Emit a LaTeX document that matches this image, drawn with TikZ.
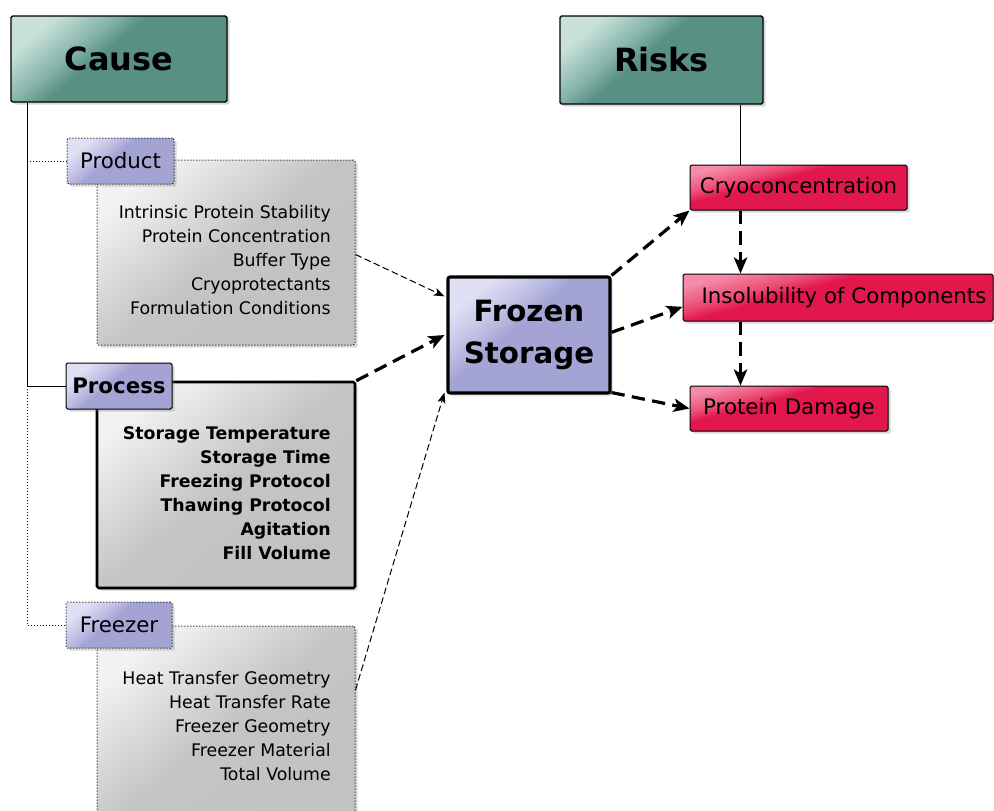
\documentclass[tikz,border=0pt]{standalone}
\usepackage{fontspec}
\setmainfont{DejaVu Sans}
\usetikzlibrary{arrows.meta,shadows}
\pgfdeclareverticalshading{tealgloss}{100bp}{rgb(0bp)=(0.345,0.569,0.518); rgb(25bp)=(0.345,0.569,0.518); rgb(55bp)=(0.345,0.569,0.518); rgb(62bp)=(0.52,0.70,0.66); rgb(75bp)=(0.78,0.88,0.85); rgb(100bp)=(0.78,0.88,0.85)}
\pgfdeclareverticalshading{lavgloss}{100bp}{rgb(0bp)=(0.64,0.64,0.83); rgb(25bp)=(0.64,0.64,0.83); rgb(55bp)=(0.64,0.64,0.83); rgb(62bp)=(0.74,0.74,0.89); rgb(75bp)=(0.88,0.88,0.96); rgb(100bp)=(0.88,0.88,0.96)}
\pgfdeclareverticalshading{redgloss}{100bp}{rgb(0bp)=(0.886,0.094,0.298); rgb(25bp)=(0.886,0.094,0.298); rgb(58bp)=(0.886,0.094,0.298); rgb(64bp)=(0.92,0.30,0.46); rgb(75bp)=(0.96,0.55,0.66); rgb(100bp)=(0.96,0.55,0.66)}
\pgfdeclareverticalshading{graygloss}{100bp}{rgb(0bp)=(0.76,0.76,0.76); rgb(25bp)=(0.76,0.76,0.76); rgb(50bp)=(0.77,0.77,0.77); rgb(60bp)=(0.84,0.84,0.84); rgb(75bp)=(0.95,0.95,0.95); rgb(100bp)=(0.95,0.95,0.95)}
\tikzset{
  base/.style={draw=black, rounded corners=1.2pt, line width=0.75pt, inner sep=0pt,
    drop shadow={shadow xshift=2pt, shadow yshift=-2pt, opacity=0.3}},
  titlebox/.style={base, shade, shading=tealgloss, shading angle=40, line width=1pt,
    font=\fontsize{24}{28}\selectfont\bfseries},
  lablbox/.style={base, shade, shading=lavgloss, shading angle=40,
    font=\fontsize{16}{19}\selectfont},
  listbox/.style={base, shade, shading=graygloss, shading angle=40},
  riskbox/.style={base, shade, shading=redgloss, shading angle=15,
    font=\fontsize{16}{19}\selectfont},
  dotborder/.style={dash pattern=on 0.75pt off 1.5pt},
  listtext/.style={anchor=east, align=right, inner sep=0pt, font=\fontsize{13}{18}\selectfont},
  thinarrow/.style={line width=0.75pt, dash pattern=on 5pt off 2.5pt,
    -{Stealth[length=8pt, width=6pt, inset=2pt]}},
  thickarrow/.style={line width=2.4pt, dash pattern=on 10pt off 5.5pt,
    -{Stealth[length=12pt, width=10pt, inset=3pt]}},
}
\begin{document}
\begin{tikzpicture}[x=0.75pt, y=-0.75pt]
\useasboundingbox (0,0) rectangle (994,810);
\clip (0,0) rectangle (994,810);
\fill[white] (0,0) rectangle (994,810);

% titles
\node[titlebox, minimum width=162pt, minimum height=64.5pt] (cause) at (119,59) {Cause};
\node[titlebox, minimum width=152.25pt, minimum height=66pt] (risks) at (661.5,60) {Risks};

% list boxes
\node[listbox, dotborder, minimum width=193.5pt, minimum height=138.75pt] (prodlist) at (226,252.5) {};
\node[listbox, line width=1.9pt, minimum width=193.5pt, minimum height=154.5pt] (proclist) at (226,485) {};
\node[listbox, dotborder, minimum width=193.5pt, minimum height=153pt] (frzlist) at (226,728) {};

% labels
\node[lablbox, dotborder, minimum width=80.25pt, minimum height=34.5pt] (prodlab) at (120.5,161) {Product};
\node[lablbox, minimum width=79.5pt, minimum height=34.5pt, font=\fontsize{16}{19}\selectfont\bfseries] (proclab) at (119,386) {Process};
\node[lablbox, dotborder, minimum width=79.5pt, minimum height=34.5pt] (frzlab) at (119,625) {Freezer};

% list texts
\node[listtext] (prodtxt) at (331,260) {Intrinsic Protein Stability\\Protein Concentration\\Buffer Type\\Cryoprotectants\\Formulation Conditions};
\node[listtext, font=\fontsize{13}{18}\selectfont\bfseries] (proctxt) at (331,493) {Storage Temperature\\Storage Time\\Freezing Protocol\\Thawing Protocol\\Agitation\\Fill Volume};
\node[listtext] (frztxt) at (331,726.5) {Heat Transfer Geometry\\Heat Transfer Rate\\Freezer Geometry\\Freezer Material\\Total Volume};

% central node
\node[base, shade, shading=lavgloss, shading angle=40, line width=2.3pt, rounded corners=1.5pt,
  minimum width=121.5pt, minimum height=87pt, align=center,
  font=\fontsize{22}{31.5}\selectfont\bfseries] (frozen) at (529,335) {Frozen\\Storage};

% risks
\node[riskbox, minimum width=162.75pt, minimum height=33.75pt] (cryo) at (798.5,187.5) {Cryoconcentration};
\node[riskbox, minimum width=232.5pt, minimum height=35.25pt] (insol) at (838,297.5) {\hspace*{9pt}Insolubility of Components};
\node[riskbox, minimum width=148.5pt, minimum height=33.75pt] (pd) at (789,408.5) {Protein Damage};

% tree lines
\coordinate (spine) at ([xshift=12.75pt]cause.south west);
\draw[line width=0.75pt] (spine) |- (proclab.west);
\coordinate (pj) at (spine |- prodlab.west);
\coordinate (qj) at (spine |- proclab.west);
\draw[line width=0.75pt, dotborder] (pj) -- (prodlab.west);
\draw[line width=0.75pt, dotborder] (qj) |- (frzlab.west);

\coordinate (rx) at ([xshift=38.25pt]cryo.north west);
\draw[line width=0.75pt] (rx |- risks.south) -- (rx);

% arrows into frozen storage
\draw[thinarrow] ([yshift=-1.5pt]prodlist.east) -- ([xshift=-1.5pt,yshift=29pt]frozen.west);
\draw[thickarrow] (proclist.north east) -- ([xshift=-1.5pt]frozen.west);
\draw[thinarrow] ([yshift=28.5pt]frzlist.east) -- ([xshift=-1.5pt,yshift=1.5pt]frozen.south west);

% arrows out
\draw[thickarrow] (frozen.north east) -- (cryo.south west);
\draw[thickarrow] ([yshift=2pt]frozen.east) -- ([yshift=-7pt]insol.west);
\draw[thickarrow] ([yshift=1.5pt]frozen.south east) -- (pd.west);
\draw[thickarrow] (rx |- cryo.south) -- (rx |- insol.north);
\draw[thickarrow] (rx |- insol.south) -- (rx |- pd.north);
\end{tikzpicture}
\end{document}
